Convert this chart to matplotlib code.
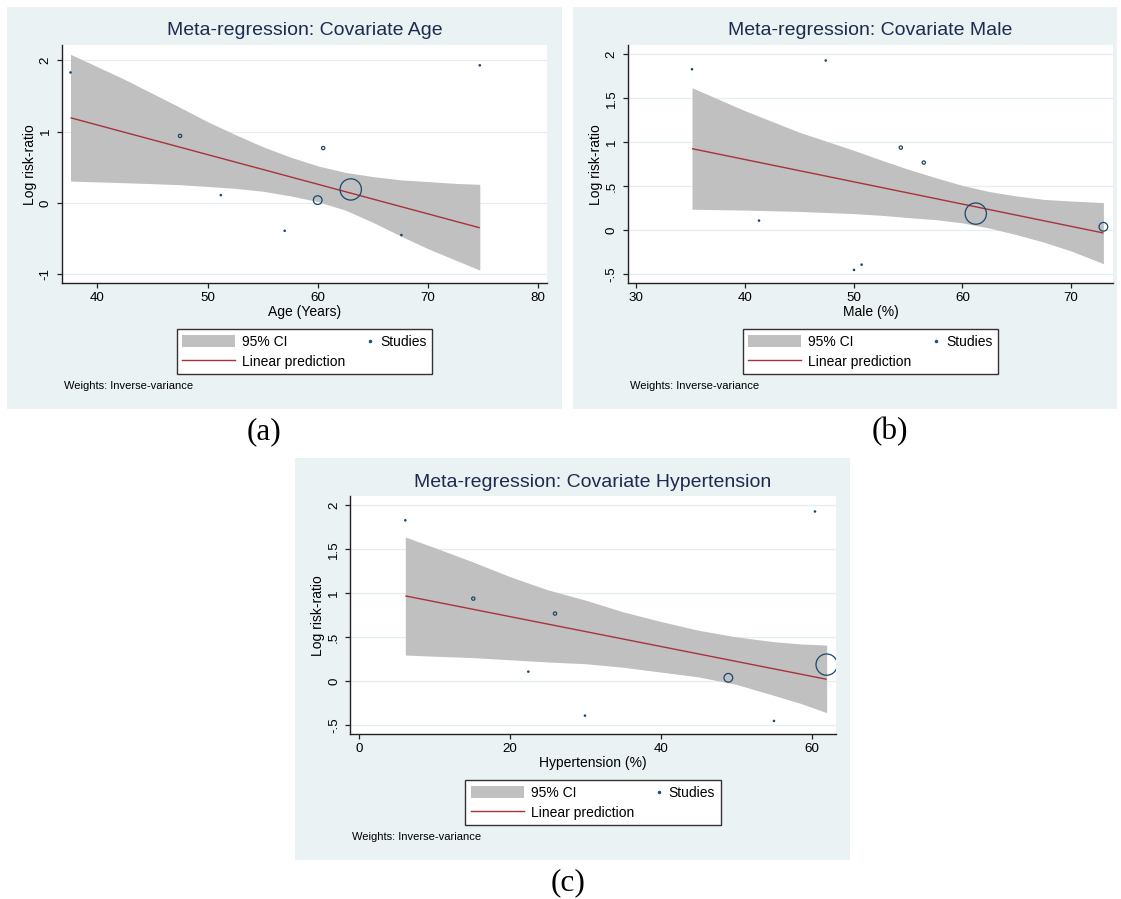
import matplotlib
matplotlib.use("Agg")
import matplotlib.pyplot as plt
from matplotlib.patches import Rectangle, Patch
from matplotlib.lines import Line2D
from matplotlib.legend_handler import HandlerBase

plt.rcParams['font.family'] = ['Liberation Sans', 'DejaVu Sans']

# ---------------- data ----------------
log_rr = [1.83, 0.94, 0.11, -0.39, 0.04, 0.77, 0.19, -0.45, 1.93]
weights = [0.3, 1.8, 0.3, 0.3, 12.5, 1.8, 75.0, 0.3, 0.3]   # relative study weights (%)
age = [37.55, 47.5, 51.2, 57.0, 60.0, 60.5, 63.0, 67.6, 74.72]
male = [35.15, 54.34, 41.31, 50.74, 72.96, 56.45, 61.23, 50.04, 47.44]
htn = [6.14, 15.15, 22.44, 29.95, 48.95, 25.98, 61.98, 55.0, 60.43]

# fitted line end points
age_fit_x = [37.55, 74.72]
age_fit_y = [1.195, -0.348]
male_fit_x = [35.15, 72.96]
male_fit_y = [0.928, -0.03]
htn_fit_x = [6.14, 61.98]
htn_fit_y = [0.971, 0.023]

# 95% CI band read at several x positions
age_ci_x = [37.55, 40, 42.5, 45, 47.5, 50, 52.5, 55, 57.5, 60, 62.5, 65, 67.5, 70, 72.5, 74.72]
age_ci_hi = [2.084, 1.91, 1.73, 1.535, 1.34, 1.14, 0.96, 0.79, 0.645, 0.52, 0.43, 0.37, 0.325, 0.30, 0.275, 0.261]
age_ci_lo = [0.307, 0.296, 0.284, 0.271, 0.256, 0.232, 0.205, 0.165, 0.10, 0.02, -0.10, -0.27, -0.46, -0.64, -0.80, -0.941]

male_ci_x = [35.15, 40, 45, 50, 52.5, 55, 57.5, 60, 62.5, 65, 67.5, 70, 72.96]
male_ci_hi = [1.62, 1.36, 1.115, 0.91, 0.80, 0.695, 0.60, 0.51, 0.44, 0.39, 0.351, 0.333, 0.315]
male_ci_lo = [0.24, 0.23, 0.215, 0.19, 0.171, 0.145, 0.122, 0.085, 0.025, -0.05, -0.135, -0.235, -0.379]

htn_ci_x = [6.14, 10, 15, 20, 25, 30, 35, 40, 45, 50, 55, 58.5, 61.98]
htn_ci_hi = [1.64, 1.52, 1.36, 1.19, 1.04, 0.923, 0.79, 0.68, 0.58, 0.505, 0.45, 0.425, 0.412]
htn_ci_lo = [0.299, 0.285, 0.27, 0.245, 0.22, 0.20, 0.16, 0.105, 0.05, -0.035, -0.16, -0.25, -0.356]

titles = ["Meta-regression: Covariate Age", "Meta-regression: Covariate Male",
          "Meta-regression: Covariate Hypertension"]
xlabels = ["Age (Years)", "Male (%)", "Hypertension (%)"]
ylabel = "Log risk-ratio"
panel_tags = ["(a)", "(b)", "(c)"]

age_xticks = [40, 50, 60, 70, 80]
male_xticks = [30, 40, 50, 60, 70]
htn_xticks = [0, 20, 40, 60]
age_yticks = [-1, 0, 1, 2]
age_yticklabels = ["-1", "0", "1", "2"]
pct_yticks = [-0.5, 0, 0.5, 1, 1.5, 2]
pct_yticklabels = ["-.5", "0", ".5", "1", "1.5", "2"]

legend_labels = ["95% CI", "Linear prediction", "Studies"]
note = "Weights: Inverse-variance"

# ---------------- styling ----------------
W, H = 1121, 899
BG = '#EAF2F3'
GRID = '#E4EEF0'
BAND = '#C0C0C0'
RED = '#A8323A'
NAVY = '#1A476F'
TITLE_C = '#1E2A4F'
AXC = '#222222'

fig = plt.figure(figsize=(W / 100, H / 100), dpi=100)
fig.patch.set_facecolor('white')


def frac(l, t, r, b):
    return [l / W, 1 - b / H, (r - l) / W, (b - t) / H]


class RightMarker(HandlerBase):
    def create_artists(self, legend, orig_handle, xdescent, ydescent,
                       width, height, fontsize, trans):
        x = -xdescent + width - 2.2
        y = -ydescent + height / 2.0
        m = Line2D([x], [y], ls='none', marker='o', markersize=2.0,
                   markerfacecolor=NAVY, markeredgecolor=NAVY, markeredgewidth=0.5)
        m.set_transform(trans)
        return [m]


panels = [
    dict(bg=(7, 7, 562), plot_lr=(61.7, 547.3), x=age, fx=age_fit_x, fy=age_fit_y,
         cx=age_ci_x, chi=age_ci_hi, clo=age_ci_lo, xlim=(36.75, 80.85), ylim=(-1.126, 2.215),
         xt=age_xticks, yt=age_yticks, ytl=age_yticklabels, tag_xy=(263.5, 432)),
    dict(bg=(573, 7, 1117), plot_lr=(627.7, 1113.3), x=male, fx=male_fit_x, fy=male_fit_y,
         cx=male_ci_x, chi=male_ci_hi, clo=male_ci_lo, xlim=(29.24, 73.87), ylim=(-0.602, 2.106),
         xt=male_xticks, yt=pct_yticks, ytl=pct_yticklabels, tag_xy=(890, 432)),
    dict(bg=(295, 458, 850), plot_lr=(350, 835.7), x=htn, fx=htn_fit_x, fy=htn_fit_y,
         cx=htn_ci_x, chi=htn_ci_hi, clo=htn_ci_lo, xlim=(-1.19, 63.18), ylim=(-0.602, 2.106),
         xt=htn_xticks, yt=pct_yticks, ytl=pct_yticklabels, tag_xy=(568, 883)),
]

K = 3.13  # marker area scale (pt^2 per weight unit)

for i, p in enumerate(panels):
    bl, bt, br = p['bg']
    bb = bt + 402
    fig.add_artist(Rectangle((bl / W, 1 - bb / H), (br - bl) / W, (bb - bt) / H,
                             transform=fig.transFigure, facecolor=BG, edgecolor='none', zorder=0))
    pl, pr = p['plot_lr']
    pt, pb = bt + 38, bt + 276.3
    ax = fig.add_axes(frac(pl, pt, pr, pb))
    ax.set_facecolor('white')
    ax.set_axisbelow(True)

    ax.fill_between(p['cx'], p['clo'], p['chi'], color=BAND, lw=0, zorder=2)
    ax.plot(p['fx'], p['fy'], color=RED, lw=1.0, zorder=3, solid_capstyle='butt')
    ax.scatter(p['x'], log_rr, s=[w * K for w in weights], facecolors='none',
               edgecolors=NAVY, linewidths=0.9, zorder=4)

    ax.set_xlim(*p['xlim'])
    ax.set_ylim(*p['ylim'])
    ax.set_xticks(p['xt'])
    ax.set_xticklabels([str(v) for v in p['xt']])
    ax.set_yticks(p['yt'])
    ax.set_yticklabels(p['ytl'])
    plt.setp(ax.get_yticklabels(), rotation=90, va='center')
    ax.tick_params(axis='both', direction='out', length=3.6, width=0.9, color=AXC,
                   labelsize=9.6, labelcolor='black')
    ax.tick_params(axis='x', pad=3.0)
    ax.tick_params(axis='y', pad=3.5)
    ax.yaxis.grid(True, color=GRID, lw=0.9)
    ax.xaxis.grid(False)
    for s in ('top', 'right'):
        ax.spines[s].set_visible(False)
    for s in ('left', 'bottom'):
        ax.spines[s].set_color(AXC)
        ax.spines[s].set_linewidth(1.0)

    ph = pb - pt
    pw = pr - pl
    ax.set_title(titles[i], fontsize=14, color=TITLE_C, pad=0,
                 y=1 + (pt - (bt + 24)) / ph, va='center')
    ax.set_xlabel(xlabels[i], fontsize=10, va='center')
    ax.xaxis.set_label_coords(0.5, -((bt + 305) - pb) / ph)
    ax.set_ylabel(ylabel, fontsize=10, va='center')
    ax.yaxis.set_label_coords(-32 / pw, 0.5)

    handles = [Patch(facecolor=BAND, edgecolor='none'),
               Line2D([], [], color=RED, lw=1.0),
               Line2D([], [], ls='none', marker='o')]
    fs = 10
    fpx = fs * 100 / 72.0
    leg = ax.legend(handles, legend_labels, ncol=2, loc='upper center',
                    bbox_to_anchor=(((pl + pr) / 2) / W, 1 - (bt + 322) / H),
                    bbox_transform=fig.transFigure, fontsize=fs,
                    handlelength=53 / fpx, handleheight=13 / fpx, handletextpad=7 / fpx,
                    columnspacing=-25 / fpx, borderpad=0.4, labelspacing=0.45,
                    borderaxespad=0, fancybox=False, framealpha=1, edgecolor='#333333',
                    handler_map={handles[2]: RightMarker()})
    leg.get_frame().set_linewidth(1.0)

    fig.text((pl + 2) / W, 1 - (bt + 379) / H, note, fontsize=8, va='center', ha='left')
    fig.text(p['tag_xy'][0] / W, 1 - p['tag_xy'][1] / H, panel_tags[i],
             family=['Liberation Serif', 'DejaVu Serif'], fontsize=22.5,
             ha='center', va='center')

fig.savefig('out.png', dpi=100)
